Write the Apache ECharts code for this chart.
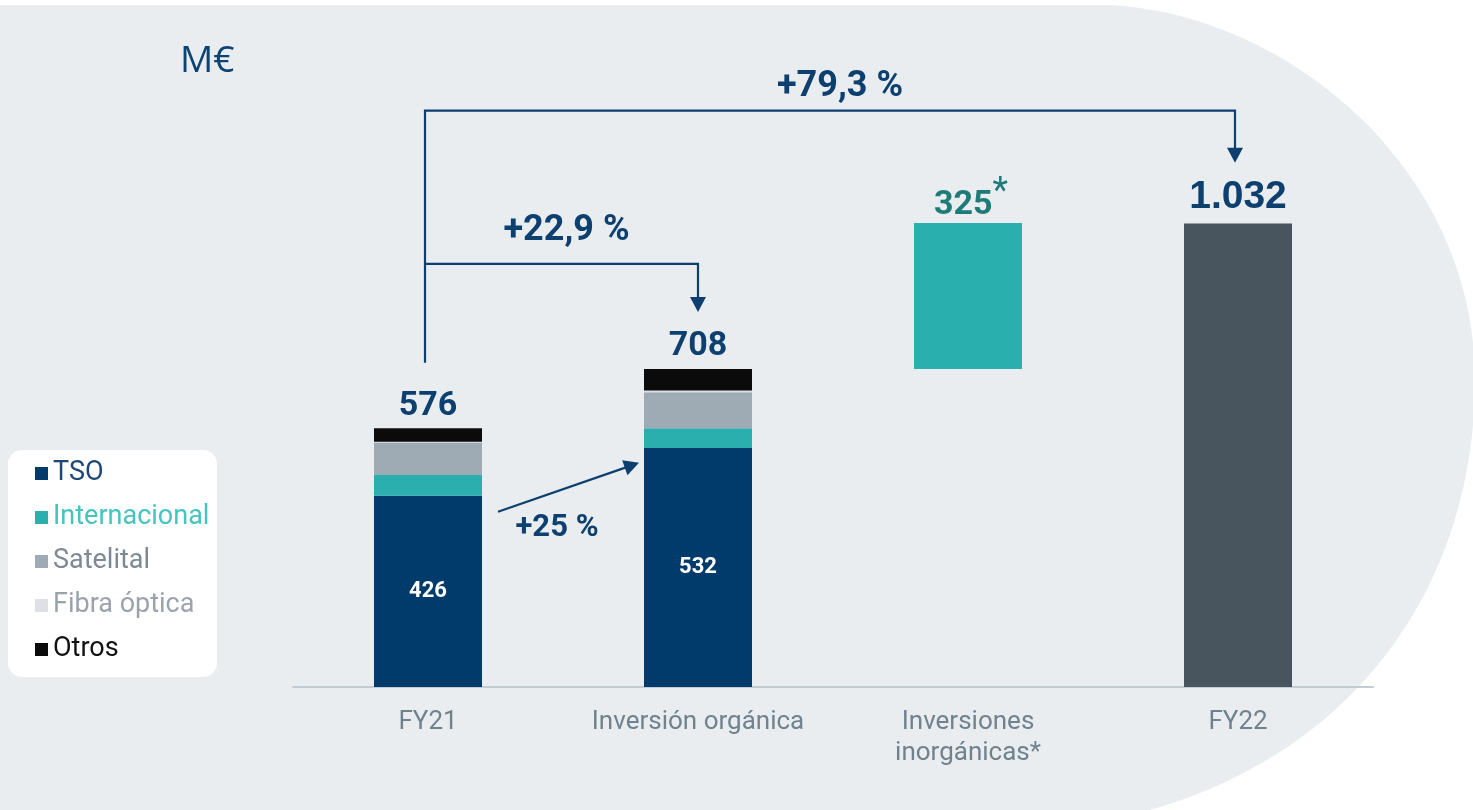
<!DOCTYPE html>
<html>
<head>
<meta charset="utf-8">
<script src="https://cdn.jsdelivr.net/npm/echarts/dist/echarts.min.js"></script>
<style>
  html, body { margin: 0; padding: 0; background: #fff; }
  #main { width: 1473px; height: 810px; }
</style>
</head>
<body>
<div id="main"></div>
<script>
// datos (M€)
const categories = ['FY21', 'Inversión orgánica', 'Inversiones\ninorgánicas*', 'FY22'];
const tso = [426, 532, '-', '-'];
const internacional = [46, 44, '-', '-'];
const satelital = [72, 80, '-', '-'];
const fibra = [2, 4, '-', '-'];
const otros = [30, 48, '-', '-'];
const totals = [576, 708, 325, 1032];
const inorgBase = ['-', '-', 708, '-'];
const inorg = ['-', '-', 325, '-'];
const fy22 = ['-', '-', '-', 1032];
const growth = ['+79,3 %', '+22,9 %', '+25 %'];

const NAVY = '#0d3f6f';
const chart = echarts.init(document.getElementById('main'));

function fmtEs(v) {
  // 1032 -> 1.032
  return String(v).replace(/\B(?=(\d{3})+(?!\d))/g, '.');
}

const valueLabel = {
  show: true,
  position: 'top',
  distance: 5,
  fontSize: 34,
  fontWeight: 'bold',
  fontFamily: 'Roboto',
  color: NAVY
};

chart.setOption({
  backgroundColor: '#fff',
  animation: false,
  grid: { left: 293, right: 100, top: 103, bottom: 123 },
  legend: {
    orient: 'vertical',
    left: 30,
    top: 455,
    itemWidth: 13,
    itemHeight: 13,
    itemGap: 17,
    icon: 'rect',
    selectedMode: false,
    textStyle: { fontSize: 27, fontFamily: 'Roboto', lineHeight: 25 },
    data: [
      { name: 'TSO', textStyle: { color: '#1f4776' } },
      { name: 'Internacional', textStyle: { color: '#45c4c0' } },
      { name: 'Satelital', textStyle: { color: '#7d8a96' } },
      { name: 'Fibra óptica', textStyle: { color: '#9aa3ad' } },
      { name: 'Otros', textStyle: { color: '#111111' } }
    ]
  },
  xAxis: {
    type: 'category',
    data: categories,
    axisTick: { show: false },
    axisLine: { lineStyle: { color: '#c3ccd4', width: 2 } },
    axisLabel: { interval: 0, color: '#71828f', fontSize: 26, fontFamily: 'Roboto', margin: 20, lineHeight: 31 }
  },
  yAxis: { type: 'value', min: 0, max: 1300, show: false, splitLine: { show: false } },
  series: [
    {
      name: 'TSO', type: 'bar', stack: 'a', barWidth: 108, data: tso,
      itemStyle: { color: '#003b6c' },
      label: { show: true, position: 'inside', color: '#fff', fontSize: 22, fontWeight: 'bold', fontFamily: 'Roboto' }
    },
    { name: 'Internacional', type: 'bar', stack: 'a', data: internacional, itemStyle: { color: '#2aaeae' } },
    { name: 'Satelital', type: 'bar', stack: 'a', data: satelital, itemStyle: { color: '#9eabb5' } },
    { name: 'Fibra óptica', type: 'bar', stack: 'a', data: fibra, itemStyle: { color: '#dde1e6' } },
    {
      name: 'Otros', type: 'bar', stack: 'a', data: otros, itemStyle: { color: '#0b0b0b' },
      label: Object.assign({}, valueLabel, { formatter: p => totals[p.dataIndex] })
    },
    {
      name: 'base', type: 'bar', stack: 'a', data: inorgBase,
      itemStyle: { color: 'transparent' }, silent: true
    },
    {
      name: 'Inorgánicas', type: 'bar', stack: 'a', data: inorg, itemStyle: { color: '#2aafaf' },
      label: {
        show: true, position: 'top', distance: 0,
        formatter: p => '{a|' + p.value + '}{s|*}',
        rich: {
          a: { fontSize: 34, fontWeight: 'bold', fontFamily: 'Roboto', color: '#1e7b78', lineHeight: 48, verticalAlign: 'bottom', padding: [0, 0, 0, 6] },
          s: { fontSize: 36, fontFamily: 'Roboto', color: '#1e7b78', lineHeight: 34, verticalAlign: 'top' }
        }
      }
    },
    {
      name: 'FY22 total', type: 'bar', stack: 'a', data: fy22, itemStyle: { color: '#48555f' },
      label: Object.assign({}, valueLabel, { fontFamily: 'Liberation Sans', fontSize: 39, distance: 7, formatter: p => fmtEs(p.value) })
    }
  ]
});

// fondo gris con borde curvo a la derecha
function bez(p0, p1, p2, p3, n) {
  const pts = [];
  for (let i = 0; i <= n; i++) {
    const t = i / n, u = 1 - t;
    pts.push([
      u * u * u * p0[0] + 3 * u * u * t * p1[0] + 3 * u * t * t * p2[0] + t * t * t * p3[0],
      u * u * u * p0[1] + 3 * u * u * t * p1[1] + 3 * u * t * t * p2[1] + t * t * t * p3[1]
    ]);
  }
  return pts;
}
const bgPoints = [[0, 5]]
  .concat(bez([1110, 5], [1290, 15], [1475, 170], [1475, 380], 40))
  .concat(bez([1475, 380], [1475, 580], [1360, 750], [1150, 810], 40))
  .concat([[0, 810]]);

// flechas y porcentajes
function drawNotes() {
  const p = (i, v) => chart.convertToPixel({ gridIndex: 0 }, [i, v]);
  const lw = 2.2;
  const line = pts => ({ type: 'polyline', shape: { points: pts }, style: { stroke: NAVY, lineWidth: lw, fill: null }, z: 10 });
  const head = (tip, from) => {
    const dx = tip[0] - from[0], dy = tip[1] - from[1];
    const len = Math.sqrt(dx * dx + dy * dy);
    const ux = dx / len, uy = dy / len;
    const bx = tip[0] - ux * 15, by = tip[1] - uy * 15;
    return {
      type: 'polygon', z: 10,
      shape: { points: [[bx - uy * 8, by + ux * 8], [bx + uy * 8, by - ux * 8], tip] },
      style: { fill: NAVY }
    };
  };
  const txt = (x, y, text, size) => ({
    type: 'text', x: x, y: y, z: 10,
    style: {
      text: text, fill: NAVY, fontSize: size, fontWeight: 'bold', fontFamily: 'Roboto',
      align: 'center', verticalAlign: 'middle', textAlign: 'center', textVerticalAlign: 'middle'
    }
  });

  const x0 = p(0, 0)[0] - 3;
  const x1 = p(1, 0)[0];
  const x3 = p(3, 0)[0] - 3;
  const yBase = p(0, 722)[1];
  const yTop = p(0, 1283)[1];
  const yTip79 = p(0, 1167)[1];
  const yMid = p(0, 942)[1];
  const yTip22 = p(0, 835)[1];

  const dS = [p(0, 0)[0] + 70, p(0, 390)[1]];
  const dE = [p(1, 0)[0] - 59, p(0, 499)[1]];
  const ux = dE[0] - dS[0], uy = dE[1] - dS[1];
  const ul = Math.sqrt(ux * ux + uy * uy);
  const dLineEnd = [dE[0] - ux / ul * 13, dE[1] - uy / ul * 13];

  const graphic = [
    {
      type: 'polygon', z: -10, silent: true,
      shape: { points: bgPoints },
      style: { fill: '#e9edf0' }
    },
    {
      type: 'rect', z: -5, silent: true,
      shape: { x: 8, y: 450, width: 209, height: 227, r: 14 },
      style: { fill: '#ffffff' }
    },
    {
      type: 'text', x: 180, y: 61, z: 10,
      style: { text: 'M€', fill: '#0d4373', fontSize: 37, fontFamily: 'Open Sans', verticalAlign: 'middle', textVerticalAlign: 'middle' }
    },
    line([[x0, yBase], [x0, yTop], [x3, yTop], [x3, yTip79 - 13]]),
    head([x3, yTip79], [x3, yTop]),
    line([[x0, yMid], [x1, yMid], [x1, yTip22 - 13]]),
    head([x1, yTip22], [x1, yMid]),
    line([dS, dLineEnd]),
    head(dE, dS),
    txt((x0 + x3) / 2 + 10, p(0, 1336)[1], growth[0], 36),
    txt((x0 + x1) / 2 + 5, p(0, 1015)[1], growth[1], 36),
    txt(dS[0] + 59, p(0, 354)[1], growth[2], 31)
  ];
  chart.setOption({ graphic: graphic });
}
drawNotes();
</script>
</body>
</html>
